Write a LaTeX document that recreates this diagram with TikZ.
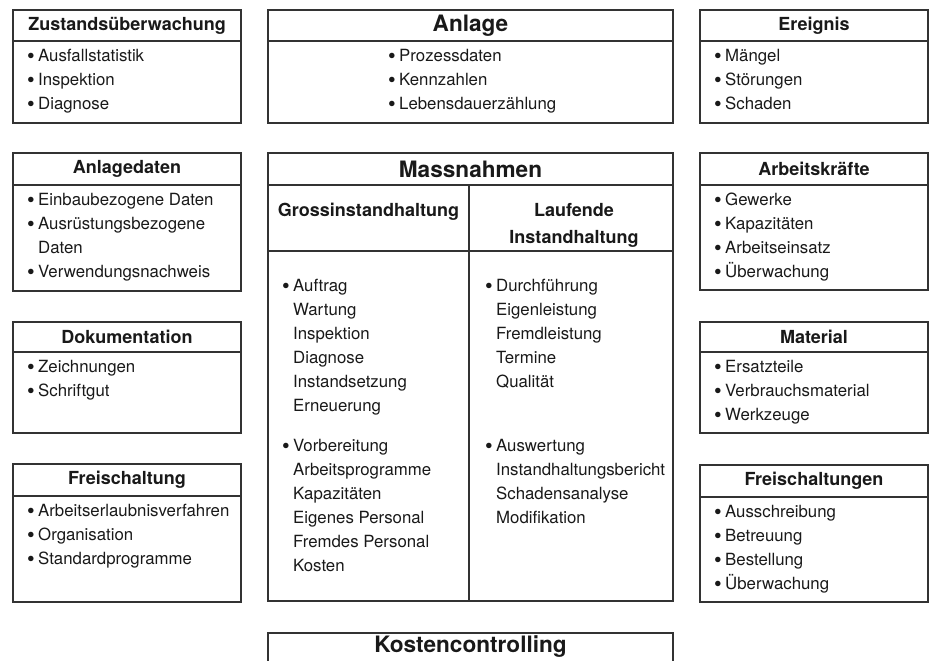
\documentclass[tikz,border=0pt]{standalone}
\usepackage{fontspec}
\setmainfont{TeX Gyre Heros}
\usepackage{tikz}
\usetikzlibrary{positioning}
\newcommand\bul{\makebox[11bp][l]{\raisebox{-2bp}{\scalebox{1.3}{\textbullet}}}}
\newcommand\ind{\hspace*{11bp}}
\newcommand\fst{\rule{0pt}{16bp}}

\begin{document}
\begin{tikzpicture}[x=1bp,y=-1bp,
    frame/.style={draw=black!80, line width=1.2bp, inner sep=0pt, outer sep=0pt, anchor=north west},
    head/.style={frame, text=black!90, font=\bfseries\fontsize{18bp}{22bp}\selectfont},
    big/.style={frame, text=black!90, font=\bfseries\fontsize{22.6bp}{26bp}\selectfont},
    items/.style={inner sep=0pt, anchor=north west, align=left, text=black!90, font=\fontsize{16.8bp}{24bp}\selectfont},
    sub/.style={inner sep=0pt, anchor=north, align=center, text=black!90, font=\bfseries\fontsize{18bp}{27bp}\selectfont}]
\useasboundingbox (0,0) rectangle (933,661);

% linke Spalte
\node[head, minimum width=228bp, minimum height=31bp] (zust) at (13,10) {Zustandsüberwachung};
\node[frame, minimum width=228bp, minimum height=82bp, below=0pt of zust] (zustb) {};
\node[items] (zustl) at ([xshift=14bp,yshift=-4.5bp]zustb.north west) {\fst\bul Ausfallstatistik\\\bul Inspektion\\\bul Diagnose};

\node[head, minimum width=228bp, minimum height=32bp] (anld) at (13,153) {Anlagedaten};
\node[frame, minimum width=228bp, minimum height=106bp, below=0pt of anld] (anldb) {};
\node[items] (anldl) at ([xshift=14bp,yshift=-4.5bp]anldb.north west) {\fst\bul Einbaubezogene Daten\\\bul Ausrüstungsbezogene\\\ind Daten\\\bul Verwendungsnachweis};

\node[head, minimum width=228bp, minimum height=30bp] (doku) at (13,322) {Dokumentation};
\node[frame, minimum width=228bp, minimum height=81bp, below=0pt of doku] (dokub) {};
\node[items] (dokul) at ([xshift=14bp,yshift=-4.5bp]dokub.north west) {\fst\bul Zeichnungen\\\bul Schriftgut};

\node[head, minimum width=228bp, minimum height=32bp] (frei) at (13,464) {Freischaltung};
\node[frame, minimum width=228bp, minimum height=106bp, below=0pt of frei] (freib) {};
\node[items] (freil) at ([xshift=14bp,yshift=-4.5bp]freib.north west) {\fst\bul Arbeitserlaubnisverfahren\\\bul Organisation\\\bul Standardprogramme};

% Mitte
\node[big, minimum width=405bp, minimum height=31bp] (anl) at (268,10) {Anlage};
\node[frame, minimum width=405bp, minimum height=82bp, below=0pt of anl] (anlb) {};
\node[items] (anll) at (388,45.5) {\fst\bul Prozessdaten\\\bul Kennzahlen\\\bul Lebensdauerzählung};

\node[big, minimum width=405bp, minimum height=32bp] (mass) at (268,153) {Massnahmen};
\node[frame, minimum width=201bp, minimum height=66bp] (gross) at (mass.south west) {};
\node[frame, minimum width=204bp, minimum height=66bp, anchor=north east] (lauf) at (mass.south east) {};
\node[frame, minimum width=201bp, minimum height=350bp, below=0pt of gross] (grossb) {};
\node[frame, minimum width=204bp, minimum height=350bp, below=0pt of lauf] (laufb) {};
\node[sub] (grosst) at (368.5,202) {\rule{0pt}{14bp}Grossinstandhaltung};
\node[sub] (lauft) at (574,202) {\rule{0pt}{14bp}Laufende\\Instandhaltung};
\node[items] (grossl) at (282,275.5) {\fst\bul Auftrag\\\ind Wartung\\\ind Inspektion\\\ind Diagnose\\\ind Instandsetzung\\\ind Erneuerung\\[16bp]\bul Vorbereitung\\\ind Arbeitsprogramme\\\ind Kapazitäten\\\ind Eigenes Personal\\\ind Fremdes Personal\\\ind Kosten};
\node[items] (laufl) at (485,275.5) {\fst\bul Durchführung\\\ind Eigenleistung\\\ind Fremdleistung\\\ind Termine\\\ind Qualität\\[40bp]\bul Auswertung\\\ind Instandhaltungsbericht\\\ind Schadensanalyse\\\ind Modifikation};

\node[frame, minimum width=405bp, minimum height=60bp] (kost) at (268,633) {};
\node[big, draw=none, anchor=center] (kostt) at ([yshift=-14bp]kost.north) {Kostencontrolling};

% rechte Spalte
\node[head, minimum width=228bp, minimum height=31bp] (ereig) at (700,10) {Ereignis};
\node[frame, minimum width=228bp, minimum height=82bp, below=0pt of ereig] (ereigb) {};
\node[items] (ereigl) at ([xshift=14bp,yshift=-4.5bp]ereigb.north west) {\fst\bul Mängel\\\bul Störungen\\\bul Schaden};

\node[head, minimum width=228bp, minimum height=32bp] (arb) at (700,153) {Arbeitskräfte};
\node[frame, minimum width=228bp, minimum height=105bp, below=0pt of arb] (arbb) {};
\node[items] (arbl) at ([xshift=14bp,yshift=-4.5bp]arbb.north west) {\fst\bul Gewerke\\\bul Kapazitäten\\\bul Arbeitseinsatz\\\bul Überwachung};

\node[head, minimum width=228bp, minimum height=30bp] (mat) at (700,322) {Material};
\node[frame, minimum width=228bp, minimum height=81bp, below=0pt of mat] (matb) {};
\node[items] (matl) at ([xshift=14bp,yshift=-4.5bp]matb.north west) {\fst\bul Ersatzteile\\\bul Verbrauchsmaterial\\\bul Werkzeuge};

\node[head, minimum width=228bp, minimum height=32bp] (freis) at (700,465) {Freischaltungen};
\node[frame, minimum width=228bp, minimum height=105bp, below=0pt of freis] (freisb) {};
\node[items] (freisl) at ([xshift=14bp,yshift=-4.5bp]freisb.north west) {\fst\bul Ausschreibung\\\bul Betreuung\\\bul Bestellung\\\bul Überwachung};
\end{tikzpicture}
\end{document}
